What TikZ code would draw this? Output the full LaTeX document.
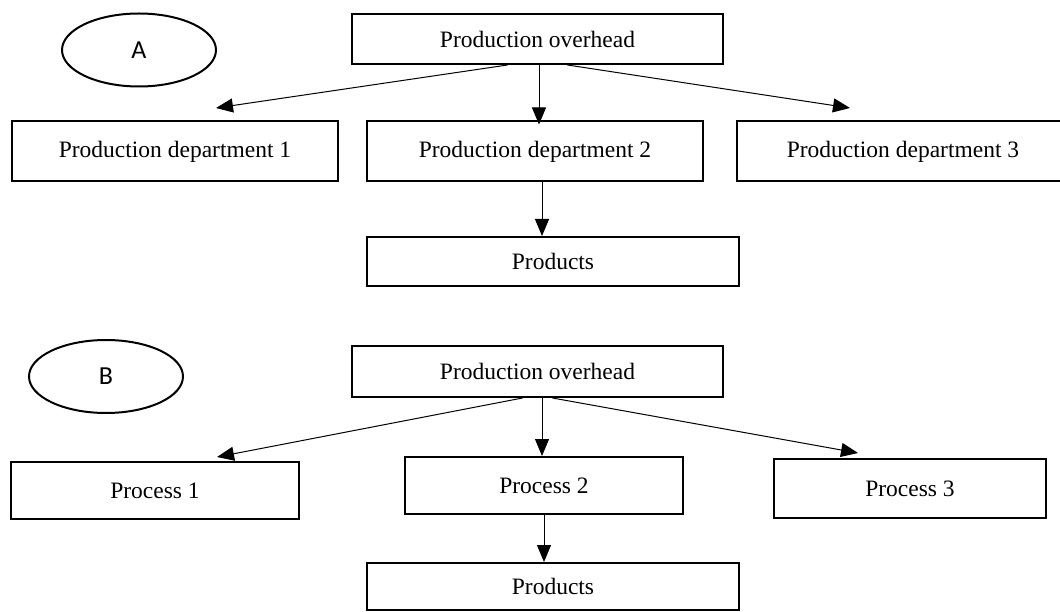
\documentclass[tikz,border=0pt]{standalone}
\usepackage{fontspec}
\setmainfont{Liberation Serif}
\newfontfamily\labelfont{Carlito}
\usetikzlibrary{arrows.meta,shapes.geometric}
\begin{document}
\begin{tikzpicture}[x=1pt,y=-1pt,
  boxnode/.style={draw,line width=2pt,rectangle,inner sep=0pt,font=\fontsize{23.5}{26}\selectfont},
  ellnode/.style={draw,line width=2pt,ellipse,inner sep=0pt,minimum width=154pt,minimum height=73pt,font=\labelfont\fontsize{26}{28}\selectfont},
  conn/.style={line width=1pt,-{Triangle[length=17pt,width=14pt]}}
]
\useasboundingbox[fill=white] (0,0) rectangle (1060,612);
% Part A
\node[ellnode] (ellA) at (139,50) {A};
\node[boxnode,minimum width=371pt,minimum height=50pt] (poA) at (537.5,39) {Production overhead};
\node[boxnode,minimum width=326pt,minimum height=60pt] (d1) at (175,151.5) {Production department 1};
\node[boxnode,minimum width=336pt,minimum height=60pt] (d2) at (535,151.5) {Production department 2};
\node[boxnode,minimum width=332pt,minimum height=60pt] (d3) at (903,151.5) {Production department 3};
\node[boxnode,minimum width=372pt,minimum height=49pt] (pa) at (553,261.5) {Products};
\coordinate (tAL) at (216,108);
\coordinate (tAR) at (850,108);
\draw[conn] ([xshift=-30pt]poA.south) -- (tAL);
\draw[conn] ([xshift=1.5pt]poA.south) -- ([xshift=1.5pt,yshift=-4pt]poA.south |- d2.north);
\draw[conn] ([xshift=30pt]poA.south) -- (tAR);
\draw[conn] ([xshift=7pt]d2.south) -- ([xshift=7pt]d2.south |- pa.north);
% Part B
\node[ellnode] (ellB) at (106,376.5) {B};
\node[boxnode,minimum width=371pt,minimum height=51pt] (poB) at (537.5,371.5) {Production overhead};
\node[boxnode,minimum width=288pt,minimum height=57pt] (p1) at (155,490.5) {Process 1};
\node[boxnode,minimum width=278pt,minimum height=57pt] (p2) at (544,485.5) {Process 2};
\node[boxnode,minimum width=272pt,minimum height=59pt] (p3) at (910,488.5) {Process 3};
\node[boxnode,minimum width=372pt,minimum height=47pt] (pb) at (553,586.5) {Products};
\coordinate (tBL) at (217,457);
\coordinate (tBR) at (858,453);
\draw[conn] ([xshift=-15pt]poB.south) -- (tBL);
\draw[conn] ([xshift=4.5pt]poB.south) -- ([xshift=4.5pt]poB.south |- p2.north);
\draw[conn] ([xshift=15pt]poB.south) -- (tBR);
\draw[conn] (p2.south) -- (p2.south |- pb.north);
\end{tikzpicture}
\end{document}
